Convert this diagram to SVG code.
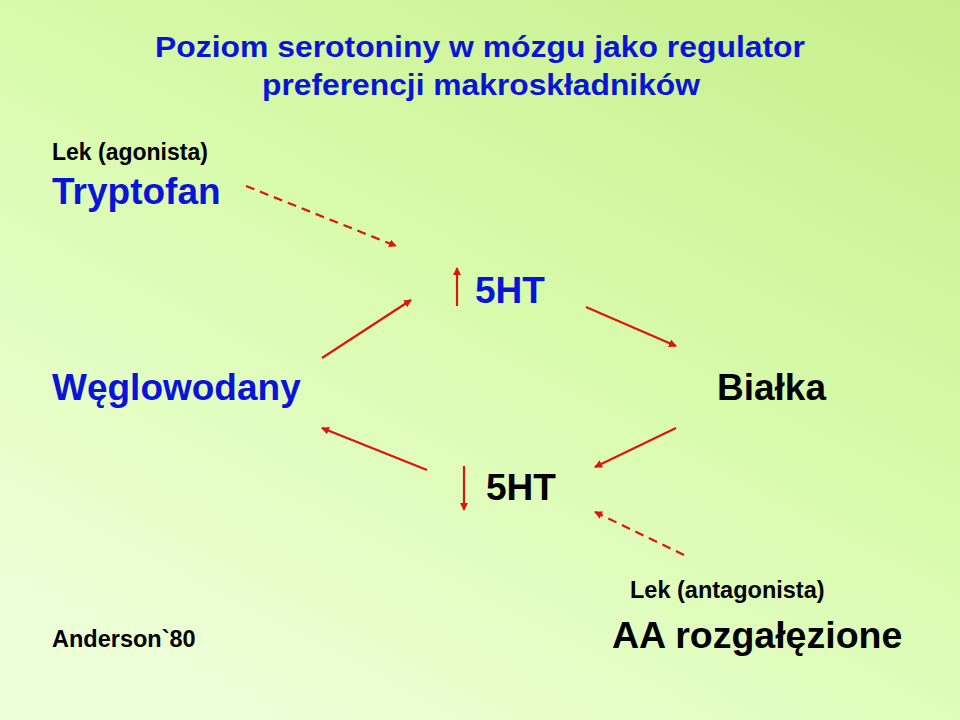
<svg xmlns="http://www.w3.org/2000/svg" width="960" height="720" viewBox="0 0 960 720">
<defs>
<linearGradient id="bg" x1="1" y1="0" x2="0.3" y2="1">
<stop offset="0" stop-color="#c6ee8c"/>
<stop offset="0.5" stop-color="#d8fbac"/>
<stop offset="1" stop-color="#ecffd6"/>
</linearGradient>
<marker id="ah" markerWidth="8" markerHeight="8" refX="7" refY="4" orient="auto" markerUnits="userSpaceOnUse" viewBox="0 0 8 8">
<path d="M0,0 L8,4 L0,8 Z" fill="#e0140c"/>
</marker>
<style>
text{font-family:"Liberation Sans",Arial,sans-serif;font-weight:bold}
.b{fill:#0a14d6}.k{fill:#000}
.a{stroke:#e0140c;stroke-width:2.2;fill:none;marker-end:url(#ah)}
.d{stroke-dasharray:9,6}
</style>
</defs>
<rect width="960" height="720" fill="url(#bg)"/>
<g id="title"><text class="b" x="155" y="57" font-size="30" textLength="650" lengthAdjust="spacingAndGlyphs">Poziom serotoniny w mózgu jako regulator</text>
<text class="b" x="262" y="95" font-size="30" textLength="438" lengthAdjust="spacingAndGlyphs">preferencji makroskładników</text></g>
<g id="agonist"><text class="k" x="52" y="160" font-size="23">Lek (agonista)</text><text class="b" x="52" y="204" font-size="37">Tryptofan</text></g>
<g id="ht-up"><text class="b" x="475" y="303" font-size="37">5HT</text></g>
<g id="carbs"><text class="b" x="52" y="400" font-size="37">Węglowodany</text></g>
<g id="protein"><text class="k" x="717" y="400" font-size="37">Białka</text></g>
<g id="ht-down"><text class="k" x="486" y="500" font-size="37">5HT</text></g>
<g id="antagonist"><text class="k" x="630" y="598" font-size="23.5">Lek (antagonista)</text><text class="k" x="612" y="648" font-size="37.5">AA rozgałęzione</text></g>
<g id="ref"><text class="k" x="52" y="647" font-size="23.5">Anderson`80</text></g>
<g id="connectors">
<line class="a d" x1="246" y1="186" x2="396" y2="246"/>
<line class="a" x1="457" y1="306" x2="457" y2="268"/>
<line class="a" x1="322" y1="358" x2="411" y2="300"/>
<line class="a" x1="586" y1="307" x2="676" y2="346"/>
<line class="a" x1="427" y1="470" x2="322" y2="428"/>
<line class="a" x1="676" y1="428" x2="595" y2="467"/>
<line class="a" x1="464" y1="466" x2="464" y2="510"/>
<line class="a d" x1="684" y1="555" x2="595" y2="512"/>
</g>
</svg>
